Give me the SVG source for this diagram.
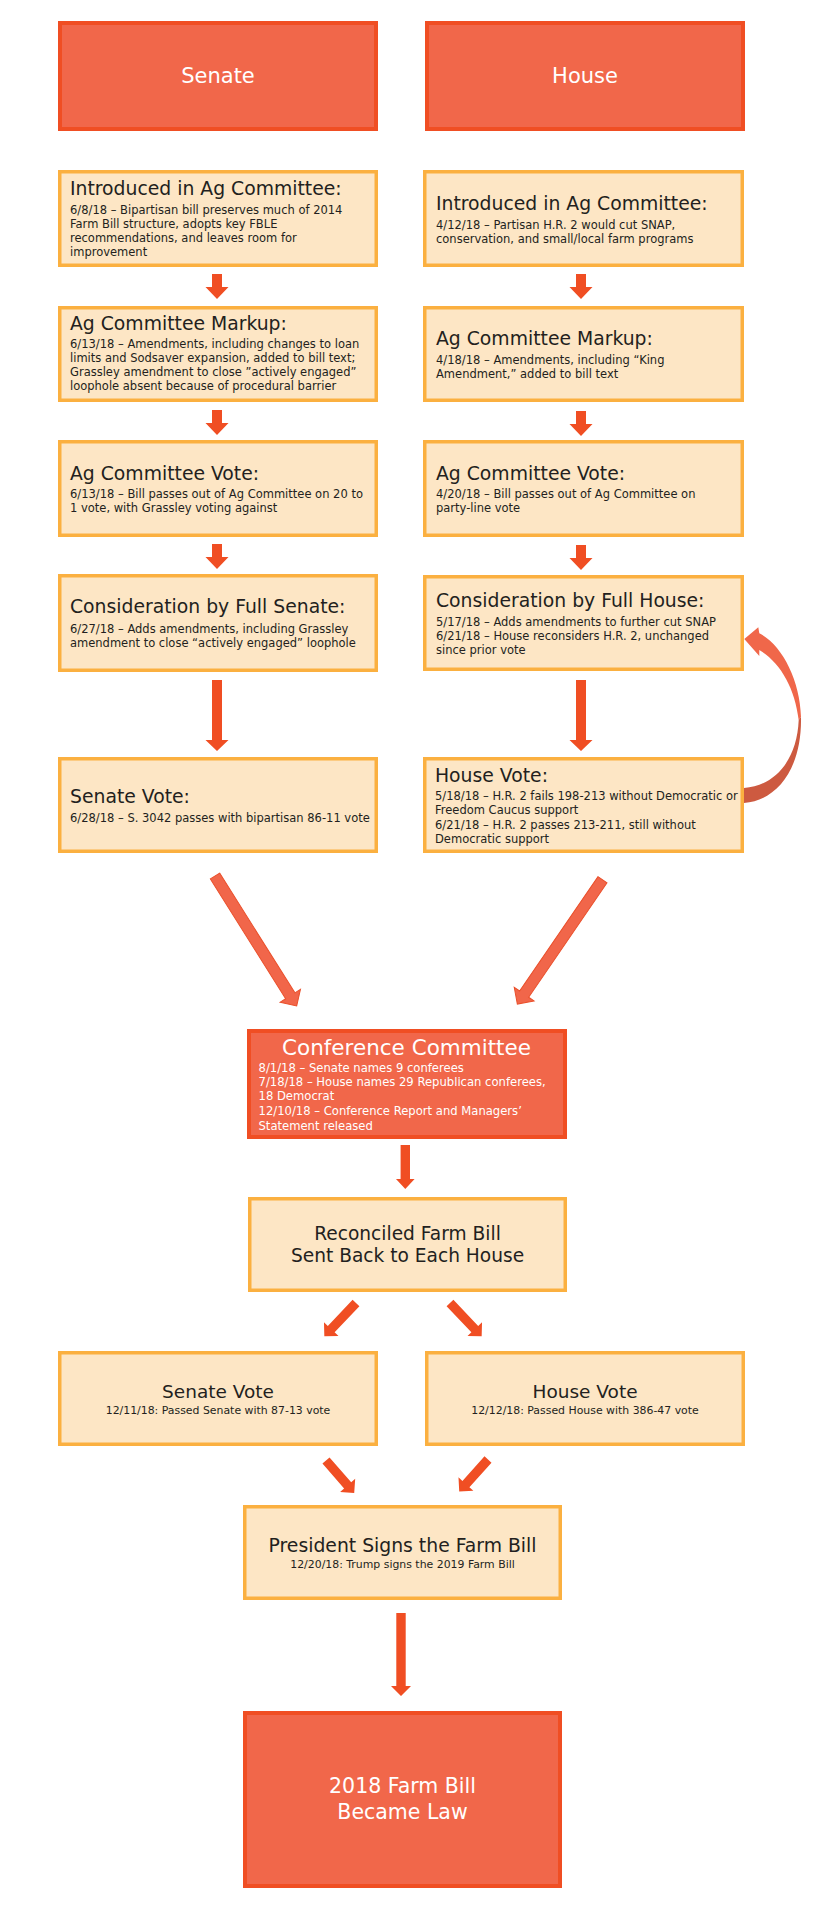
<svg xmlns="http://www.w3.org/2000/svg" width="816" height="1920" viewBox="0 0 816 1920">
<style>
.hdr{fill:#F1674A;stroke:#F04E23;stroke-width:4}
.box{fill:#FDE6C5;stroke:#FBB040;stroke-width:3.5}
text{font-family:'DejaVu Sans','Liberation Sans',sans-serif;fill:#231F20}
.t{font-size:18.8px}
.s{font-size:11.5px}
.h{font-size:21px;fill:#fff}
.w{fill:#fff}
.c{text-anchor:middle}
.arr{fill:#F04E23}
.big{fill:#F1664A;stroke:#EA4F2A;stroke-width:1}
</style>
<defs>
<path id="sa" d="M-5,0H5V13H11.5L0,25L-11.5,13H-5Z"/>
<path id="la" d="M-5,0H5V60H11.5L0,71L-11.5,60H-5Z"/>
</defs>
<rect width="816" height="1920" fill="#fff"/>

<g id="senate-header"><rect class="hdr" x="60" y="23" width="316" height="106"/><text class="h c" x="218" y="83">Senate</text></g>
<g id="house-header"><rect class="hdr" x="427" y="23" width="316" height="106"/><text class="h c" x="585" y="83">House</text></g>

<g id="senate-intro"><rect class="box" x="59.75" y="171.75" width="316.5" height="93.5"/>
<text class="t" x="70" y="195">Introduced in Ag Committee:</text>
<text class="s" x="70" y="213.5">6/8/18 – Bipartisan bill preserves much of 2014</text>
<text class="s" x="70" y="227.5">Farm Bill structure, adopts key FBLE</text>
<text class="s" x="70" y="241.5">recommendations, and leaves room for</text>
<text class="s" x="70" y="255.5">improvement</text></g>

<g id="house-intro"><rect class="box" x="424.75" y="171.75" width="317.5" height="93.5"/>
<text class="t" x="436" y="210">Introduced in Ag Committee:</text>
<text class="s" x="436" y="228.5">4/12/18 – Partisan H.R. 2 would cut SNAP,</text>
<text class="s" x="436" y="242.5">conservation, and small/local farm programs</text></g>

<g id="senate-markup"><rect class="box" x="59.75" y="307.75" width="316.5" height="92.5"/>
<text class="t" x="70" y="330">Ag Committee Markup:</text>
<text class="s" x="70" y="348">6/13/18 – Amendments, including changes to loan</text>
<text class="s" x="70" y="362">limits and Sodsaver expansion, added to bill text;</text>
<text class="s" x="70" y="376">Grassley amendment to close ”actively engaged”</text>
<text class="s" x="70" y="390">loophole absent because of procedural barrier</text></g>

<g id="house-markup"><rect class="box" x="424.75" y="307.75" width="317.5" height="92.5"/>
<text class="t" x="436" y="345">Ag Committee Markup:</text>
<text class="s" x="436" y="364">4/18/18 – Amendments, including “King</text>
<text class="s" x="436" y="378">Amendment,” added to bill text</text></g>

<g id="senate-agvote"><rect class="box" x="59.75" y="441.75" width="316.5" height="93.5"/>
<text class="t" x="70" y="480">Ag Committee Vote:</text>
<text class="s" x="70" y="498">6/13/18 – Bill passes out of Ag Committee on 20 to</text>
<text class="s" x="70" y="512">1 vote, with Grassley voting against</text></g>

<g id="house-agvote"><rect class="box" x="424.75" y="441.75" width="317.5" height="93.5"/>
<text class="t" x="436" y="480">Ag Committee Vote:</text>
<text class="s" x="436" y="498">4/20/18 – Bill passes out of Ag Committee on</text>
<text class="s" x="436" y="512">party-line vote</text></g>

<g id="senate-consideration"><rect class="box" x="59.75" y="575.75" width="316.5" height="94.5"/>
<text class="t" x="70" y="613">Consideration by Full Senate:</text>
<text class="s" x="70" y="632.5">6/27/18 – Adds amendments, including Grassley</text>
<text class="s" x="70" y="646.5">amendment to close “actively engaged” loophole</text></g>

<g id="house-consideration"><rect class="box" x="424.75" y="576.75" width="317.5" height="92.5"/>
<text class="t" x="436" y="606.5">Consideration by Full House:</text>
<text class="s" x="436" y="625.5">5/17/18 – Adds amendments to further cut SNAP</text>
<text class="s" x="436" y="639.5">6/21/18 – House reconsiders H.R. 2, unchanged</text>
<text class="s" x="436" y="653.5">since prior vote</text></g>

<g id="senate-vote"><rect class="box" x="59.75" y="758.75" width="316.5" height="92.5"/>
<text class="t" x="70" y="803">Senate Vote:</text>
<text class="s" x="70" y="821.5">6/28/18 – S. 3042 passes with bipartisan 86-11 vote</text></g>

<g id="house-vote"><rect class="box" x="424.75" y="758.75" width="317.5" height="92.5"/>
<text class="t" x="435" y="781.5">House Vote:</text>
<text class="s" x="435" y="800">5/18/18 – H.R. 2 fails 198-213 without Democratic or</text>
<text class="s" x="435" y="814.3">Freedom Caucus support</text>
<text class="s" x="435" y="828.6">6/21/18 – H.R. 2 passes 213-211, still without</text>
<text class="s" x="435" y="843">Democratic support</text></g>

<g id="conference"><rect class="hdr" x="249" y="1031" width="316" height="106"/>
<text class="h c" x="406.5" y="1055" style="font-size:21.5px">Conference Committee</text>
<text class="s w" x="258.5" y="1071.7" style="font-size:11.6px">8/1/18 – Senate names 9 conferees</text>
<text class="s w" x="258.5" y="1086" style="font-size:11.6px">7/18/18 – House names 29 Republican conferees,</text>
<text class="s w" x="258.5" y="1100.3" style="font-size:11.6px">18 Democrat</text>
<text class="s w" x="258.5" y="1114.7" style="font-size:11.6px">12/10/18 – Conference Report and Managers’</text>
<text class="s w" x="258.5" y="1130" style="font-size:11.6px">Statement released</text></g>

<g id="reconciled"><rect class="box" x="249.75" y="1198.75" width="315.5" height="91.5"/>
<text class="t c" x="407.5" y="1240" style="font-size:18.6px">Reconciled Farm Bill</text>
<text class="t c" x="407.5" y="1262.3" style="font-size:18.6px">Sent Back to Each House</text></g>

<g id="senate-final-vote"><rect class="box" x="59.75" y="1352.75" width="316.5" height="91.5"/>
<text class="t c" x="218" y="1398.3" style="font-size:18.5px">Senate Vote</text>
<text class="s c" x="218" y="1414" style="font-size:10.9px">12/11/18: Passed Senate with 87-13 vote</text></g>

<g id="house-final-vote"><rect class="box" x="426.75" y="1352.75" width="316.5" height="91.5"/>
<text class="t c" x="585" y="1398.3" style="font-size:18.5px">House Vote</text>
<text class="s c" x="585" y="1414" style="font-size:10.9px">12/12/18: Passed House with 386-47 vote</text></g>

<g id="president"><rect class="box" x="244.75" y="1506.75" width="315.5" height="91.5"/>
<text class="t c" x="402.5" y="1551.7">President Signs the Farm Bill</text>
<text class="s c" x="402.5" y="1568" style="font-size:10.9px">12/20/18: Trump signs the 2019 Farm Bill</text></g>

<g id="law"><rect class="hdr" x="245" y="1713" width="315" height="173"/>
<text class="h c" x="402.5" y="1793.3" style="font-size:20.5px">2018 Farm Bill</text>
<text class="h c" x="402.5" y="1819.3" style="font-size:20.5px">Became Law</text></g>

<g id="connectors">
<use href="#sa" class="arr" transform="translate(217,274)"/>
<use href="#sa" class="arr" transform="translate(217,410)"/>
<use href="#sa" class="arr" transform="translate(217,544)"/>
<use href="#la" class="arr" transform="translate(217,680)"/>
<use href="#sa" class="arr" transform="translate(581,274)"/>
<use href="#sa" class="arr" transform="translate(581,411)"/>
<use href="#sa" class="arr" transform="translate(581,545)"/>
<use href="#la" class="arr" transform="translate(581,680)"/>
<path d="M744.3,639 L758.3,627.3 L759.3,633.3 C782,645 800,680 801,717 L798.7,720 C795,688 780,662 759.3,650 L759.3,656 Z" fill="#F0674A"/>
<path d="M801,717 C802,765 780,800 744,803 L744,788 C775,786 797,760 798.7,720 Z" fill="#CD5A40"/>
<polygon class="big" points="0,-5.5 141.5,-5.5 141.5,-12 153.5,0 141.5,12 141.5,5.5 0,5.5" transform="translate(215,876) rotate(57.85)"/>
<polygon class="big" points="0,-5.5 138.7,-5.5 138.7,-12 150.7,0 138.7,12 138.7,5.5 0,5.5" transform="translate(602.5,879.7) rotate(124.4)"/>
<path class="arr" d="M-4.7,0H4.7V34H9.3L0,44L-9.3,34H-4.7Z" transform="translate(405.3,1145)"/>
<polygon class="arr" points="0,-4.7 36,-4.7 36,-10 46,0 36,10 36,4.7 0,4.7" transform="translate(356,1303) rotate(133.5)"/>
<polygon class="arr" points="0,-4.7 36,-4.7 36,-10 46,0 36,10 36,4.7 0,4.7" transform="translate(450,1303) rotate(46.5)"/>
<polygon class="arr" points="0,-4.7 33,-4.7 33,-10 43,0 33,10 33,4.7 0,4.7" transform="translate(326,1460.5) rotate(49)"/>
<polygon class="arr" points="0,-4.7 33,-4.7 33,-10 43,0 33,10 33,4.7 0,4.7" transform="translate(488,1459.5) rotate(132)"/>
<path class="arr" d="M-4.7,0H4.7V73H10L0,83L-10,73H-4.7Z" transform="translate(401,1613)"/>
</g>
</svg>
